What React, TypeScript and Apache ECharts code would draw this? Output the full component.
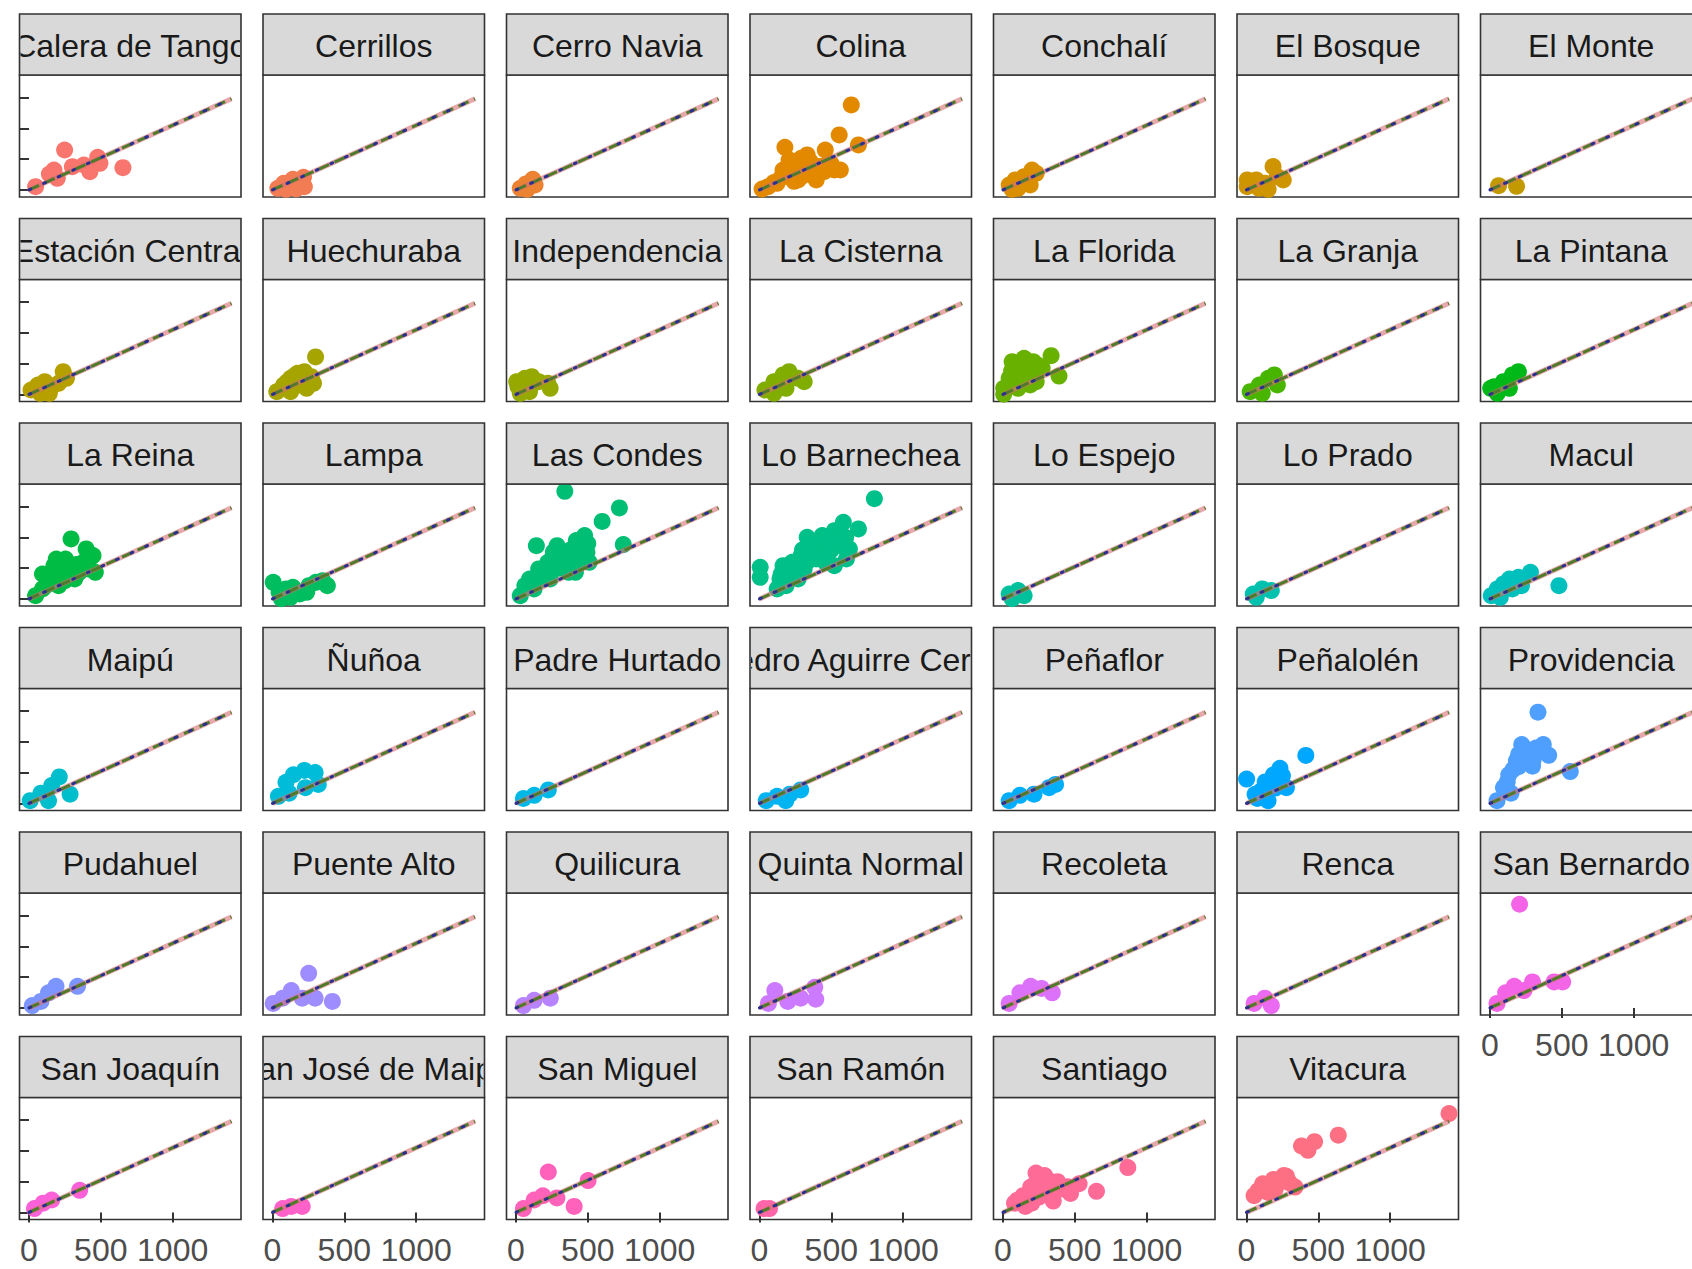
import React, { useEffect, useRef } from "react";
import * as echarts from "echarts";

// ---------- data ----------
const facetNames = [
  "Calera de Tango", "Cerrillos", "Cerro Navia", "Colina", "Conchalí", "El Bosque", "El Monte",
  "Estación Central", "Huechuraba", "Independencia", "La Cisterna", "La Florida", "La Granja", "La Pintana",
  "La Reina", "Lampa", "Las Condes", "Lo Barnechea", "Lo Espejo", "Lo Prado", "Macul",
  "Maipú", "Ñuñoa", "Padre Hurtado", "Pedro Aguirre Cerda", "Peñaflor", "Peñalolén", "Providencia",
  "Pudahuel", "Puente Alto", "Quilicura", "Quinta Normal", "Recoleta", "Renca", "San Bernardo",
  "San Joaquín", "San José de Maipo", "San Miguel", "San Ramón", "Santiago", "Vitacura",
];

const caleraDeTango = [[46,54],[142,260],[174,325],[197,190],[248,650],[302,379],[382,406],[424,298],[478,531],[494,433],[654,363]];
const cerrillos = [[37,27],[78,108],[120,81],[142,173],[216,206],[222,54],[165,16],[94,10]];
const cerroNavia = [[30,27],[69,98],[117,173],[133,81],[78,10]];
const colina = [[18,15],[60,54],[122,108],[177,694],[206,217],[248,434],[269,163],[311,325],[353,461],[395,271],[458,650],[479,434],[521,325],[555,894],[563,325],[639,1382],[689,732],[332,569],[290,515],[164,325],[206,488],[395,163],[100,120],[150,200],[230,300],[280,380],[340,400],[420,380],[450,300],[500,420],[360,250],[240,140],[180,270],[300,230]];
const conchali = [[43,81],[85,163],[147,217],[202,325],[231,271],[189,81],[105,27],[63,10]];
const elBosque = [[5,163],[5,54],[68,163],[130,108],[185,380],[214,217],[151,10],[88,27],[256,163]];
const elMonte = [[60,70],[185,60]];
const estacionCentral = [[14,73],[62,154],[110,208],[158,127],[206,181],[238,371],[261,263],[142,19],[78,19]];
const huechuraba = [[30,46],[78,154],[126,263],[174,344],[222,371],[270,290],[286,181],[300,610],[190,154],[126,46],[238,100],[150,300],[200,300],[250,250],[100,200]];
const independencia = [[5,208],[14,127],[62,263],[110,290],[158,208],[222,181],[238,100],[94,46],[30,19]];
const laCisterna = [[38,73],[101,208],[164,317],[206,371],[269,263],[311,208],[185,100],[101,19]];
const laFlorida = [[5,100],[43,263],[85,480],[147,588],[210,534],[273,425],[335,630],[390,300],[168,317],[231,208],[105,100],[5,5],[64,534],[189,154],[100,350],[120,500],[180,450],[240,480],[60,380],[150,420]];
const laGranja = [[26,46],[89,154],[152,263],[194,317],[215,154],[110,19]];
const laPintana = [[5,100],[30,127],[93,208],[156,317],[198,371],[135,100],[51,19]];
const laReina = [[46,54],[94,163],[126,325],[174,542],[190,650],[222,488],[254,650],[293,976],[286,379],[206,217],[318,325],[398,813],[430,678],[414,488],[462,434],[446,705],[350,434],[142,379],[94,406],[150,300],[200,400],[240,560],[270,500],[300,450],[330,560],[250,300],[380,600],[180,460],[120,220]];
const lampa = [[5,271],[46,108],[94,163],[142,190],[190,81],[254,217],[302,271],[350,298],[382,217],[126,27],[238,108],[62,5]];
const lasCondes = [[30,54],[62,217],[94,325],[142,867],[158,488],[190,379],[222,596],[286,867],[302,678],[340,1750],[350,542],[398,759],[430,894],[478,1030],[494,759],[510,596],[446,650],[414,434],[366,434],[270,542],[238,325],[600,1260],[720,1480],[747,885],[126,163],[318,705],[462,867],[200,450],[250,650],[330,600],[380,650],[420,560],[460,700],[480,800],[500,900],[380,800],[300,500],[160,300],[110,250],[260,760],[420,950]];
const loBarnechea = [[5,515],[5,352],[123,163],[143,325],[164,542],[227,596],[269,325],[290,705],[332,1003],[353,813],[395,921],[437,1030],[458,596],[479,759],[521,1111],[563,867],[584,1247],[605,650],[626,813],[689,1138],[800,1630],[395,650],[311,488],[206,379],[521,542],[185,217],[250,450],[280,600],[340,620],[380,760],[420,880],[450,700],[500,800],[540,950],[560,1000],[600,1000],[480,950],[360,900],[300,800],[150,400]];
const loEspejo = [[43,81],[105,136],[147,54],[64,5]];
const loPrado = [[47,81],[110,163],[173,136],[68,27]];
const macul = [[9,54],[51,163],[93,244],[135,325],[198,352],[282,434],[480,217],[156,163],[72,27],[219,217]];
const maipu = [[8,46],[83,168],[158,291],[211,431],[286,151],[136,46]];
const nunoa = [[41,116],[94,344],[146,467],[222,537],[297,502],[319,309],[229,256],[116,168]];
const padreHurtado = [[52,81],[127,133],[225,221]];
const pedroAguirreCerda = [[47,46],[122,116],[212,151],[287,221],[183,46]];
const penaflor = [[43,46],[118,133],[216,151],[321,256],[366,309]];
const penalolen = [[1,397],[76,81],[128,221],[188,467],[233,572],[278,256],[413,782],[150,46],[100,200],[130,350],[170,300],[210,400],[250,450],[200,250],[60,150]];
const providencia = [[49,46],[94,256],[131,467],[184,695],[221,958],[259,783],[296,607],[334,1484],[409,783],[559,519],[371,958],[146,168],[120,350],[160,550],[200,600],[240,700],[280,850],[320,900],[300,700],[350,850],[240,900],[200,800]];
const pudahuel = [[23,39],[83,107],[136,247],[188,353],[338,353]];
const puenteAlto = [[5,74],[71,160],[131,283],[207,160],[252,563],[297,160],[417,107]];
const quilicura = [[52,39],[127,125],[239,160]];
const quintaNormal = [[62,74],[107,283],[197,107],[287,160],[385,336],[392,142]];
const recoleta = [[43,74],[118,247],[193,353],[268,318],[343,247]];
const renca = [[53,74],[128,160],[173,39]];
const sanBernardo = [[49,74],[109,247],[169,353],[236,283],[296,423],[446,423],[506,423],[206,1686]];
const sanJoaquin = [[38,63],[98,151],[158,203],[353,361]];
const sanJoseDeMaipo = [[71,63],[131,98],[207,98]];
const sanMiguel = [[52,63],[127,203],[187,272],[225,658],[285,237],[405,98],[502,519]];
const sanRamon = [[32,63],[70,63]];
const santiago = [[80,151],[140,274],[193,414],[230,641],[275,344],[320,519],[395,414],[470,309],[530,467],[651,344],[869,730],[350,186],[156,98],[100,200],[180,300],[220,450],[260,500],[300,400],[340,300],[380,500],[420,380],[250,250],[200,150],[450,420],[290,600]];
const vitacura = [[53,274],[113,467],[188,537],[278,589],[338,414],[383,1081],[474,1151],[639,1256],[428,1011],[1410,1607],[150,326],[80,350],[120,400],[170,420],[220,480],[250,520],[300,480],[200,380],[260,600]];

const facetData = [
  caleraDeTango, cerrillos, cerroNavia, colina, conchali, elBosque, elMonte,
  estacionCentral, huechuraba, independencia, laCisterna, laFlorida, laGranja, laPintana,
  laReina, lampa, lasCondes, loBarnechea, loEspejo, loPrado, macul,
  maipu, nunoa, padreHurtado, pedroAguirreCerda, penaflor, penalolen, providencia,
  pudahuel, puenteAlto, quilicura, quintaNormal, recoleta, renca, sanBernardo,
  sanJoaquin, sanJoseDeMaipo, sanMiguel, sanRamon, santiago, vitacura,
];

// reference line (same in every panel)
const lineX = [0, 1410];
const lineY = [0, 1482];

const xTicks = [0, 500, 1000];
const yTicks = [0, 500, 1000, 1500];
const X_MIN = -66, X_MAX = 1476;
const Y_MIN = -114, Y_MAX = 1869;

// ---------- layout ----------
const NCOL = 7;
const COL0 = 19.5, COLP = 243.5, ROW0 = 14, ROWP = 204.5;
const W = 221.5, SH = 61, PH = 122;
const FONT = '"Liberation Sans", Arial, Helvetica, sans-serif';

// ggplot2 default hue palette (hcl, c = 100, l = 65)
function hcl2hex(h: number, c: number, l: number): string {
  const hr = (h * Math.PI) / 180;
  const U = c * Math.cos(hr), V = c * Math.sin(hr);
  const Xn = 95.047, Yn = 100, Zn = 108.883;
  const Y = l > 7.999592 ? Yn * Math.pow((l + 16) / 116, 3) : (Yn * l) / 903.3;
  const t = Xn + 15 * Yn + 3 * Zn;
  const un = (4 * Xn) / t, vn = (9 * Yn) / t;
  const Q = U / (13 * l) + un, R = V / (13 * l) + vn;
  const X = (9 * Y * Q) / (4 * R);
  const Z = -X / 3 - 5 * Y + (3 * Y) / R;
  const x = X / 100, y = Y / 100, z = Z / 100;
  const lin = [
    3.240479 * x - 1.53715 * y - 0.498535 * z,
    -0.969256 * x + 1.875992 * y + 0.041556 * z,
    0.055648 * x - 0.204043 * y + 1.057311 * z,
  ];
  return (
    "#" +
    lin
      .map((u) => {
        let v = u > 0.00304 ? 1.055 * Math.pow(u, 1 / 2.4) - 0.055 : 12.92 * u;
        v = Math.max(0, Math.min(1, v));
        return Math.round(v * 255).toString(16).padStart(2, "0");
      })
      .join("")
  );
}

function buildOption() {
  const n = facetNames.length;
  const colors = facetNames.map((_, i) => hcl2hex(15 + (i * 360) / n, 100, 65));
  const grids: any[] = [];
  const xAxes: any[] = [];
  const yAxes: any[] = [];
  const series: any[] = [];

  facetNames.forEach((name, i) => {
    const r = Math.floor(i / NCOL), c = i % NCOL;
    const left = COL0 + c * COLP;
    const top = ROW0 + r * ROWP + SH;
    grids.push({
      left, top, width: W, height: PH,
      show: true, backgroundColor: "#ffffff", borderColor: "#333333", borderWidth: 1.6,
      containLabel: false, outerBoundsMode: "none",
    });
    const bottom = i + NCOL >= n;
    xAxes.push({
      type: "value", gridIndex: i, min: X_MIN, max: X_MAX, show: bottom,
      axisLine: { show: false }, splitLine: { show: false },
      axisTick: { show: bottom, customValues: xTicks, length: 10, lineStyle: { color: "#333333", width: 2 } },
      axisLabel: {
        show: bottom, customValues: xTicks, color: "#4D4D4D", fontSize: 32, fontFamily: FONT, margin: 14,
        formatter: (v: number) => String(v),
      },
    });
    yAxes.push({
      type: "value", gridIndex: i, min: Y_MIN, max: Y_MAX, show: c === 0,
      axisLine: { show: false }, splitLine: { show: false },
      axisTick: { show: c === 0, customValues: yTicks, length: 10, lineStyle: { color: "#333333", width: 2 } },
      axisLabel: { show: false },
    });
    series.push({
      type: "scatter", name, xAxisIndex: i, yAxisIndex: i, z: 2,
      symbol: "circle", symbolSize: 17, silent: true,
      itemStyle: { color: colors[i], opacity: 1 },
      data: facetData[i],
    });
    const lineData = lineX.map((x, k) => [x, lineY[k]]);
    series.push({
      type: "line", xAxisIndex: i, yAxisIndex: i, z: 3, symbol: "none", silent: true,
      lineStyle: { color: "rgba(214,110,115,0.6)", width: 5 }, data: lineData,
    });
    series.push({
      type: "line", xAxisIndex: i, yAxisIndex: i, z: 4, symbol: "none", silent: true,
      lineStyle: { color: "#4F7A2A", width: 3, type: [11, 6] }, data: lineData,
    });
    series.push({
      type: "line", xAxisIndex: i, yAxisIndex: i, z: 5, symbol: "none", silent: true,
      lineStyle: { color: "#2B2F8F", width: 3, type: [2, 14], cap: "round" }, data: lineData,
    });
  });

  // facet strips
  series.push({
    type: "custom",
    coordinateSystem: "none",
    silent: true,
    z: 6,
    data: facetNames.map((_, i) => [i]),
    renderItem: (params: any) => {
      const i = params.dataIndex;
      const r = Math.floor(i / NCOL), c = i % NCOL;
      const x = COL0 + c * COLP;
      const y = ROW0 + r * ROWP;
      return {
        type: "group",
        children: [
          {
            type: "rect",
            shape: { x, y, width: W, height: SH },
            style: { fill: "#D9D9D9", stroke: "#333333", lineWidth: 1.6 },
          },
          {
            type: "group",
            clipPath: { type: "rect", shape: { x: x + 1, y: y + 1, width: W - 2, height: SH - 2 } },
            children: [
              {
                type: "text",
                x: x + W / 2,
                y: y + SH / 2 + 1.5,
                style: {
                  text: facetNames[i],
                  fill: "#1A1A1A",
                  fontSize: 32,
                  fontFamily: FONT,
                  align: "center",
                  verticalAlign: "middle",
                },
              },
            ],
          },
        ],
      };
    },
  });

  return { animation: false, backgroundColor: "#ffffff", grid: grids, xAxis: xAxes, yAxis: yAxes, series };
}

export default function App() {
  const ref = useRef<HTMLDivElement>(null);
  useEffect(() => {
    const chart = echarts.init(ref.current as HTMLDivElement, null, { renderer: "svg" });
    chart.setOption(buildOption() as any);
    return () => chart.dispose();
  }, []);
  return (
    <div
      ref={ref}
      style={{ position: "fixed", left: 0, top: 0, width: 1692, height: 1269, background: "#ffffff" }}
    />
  );
}
